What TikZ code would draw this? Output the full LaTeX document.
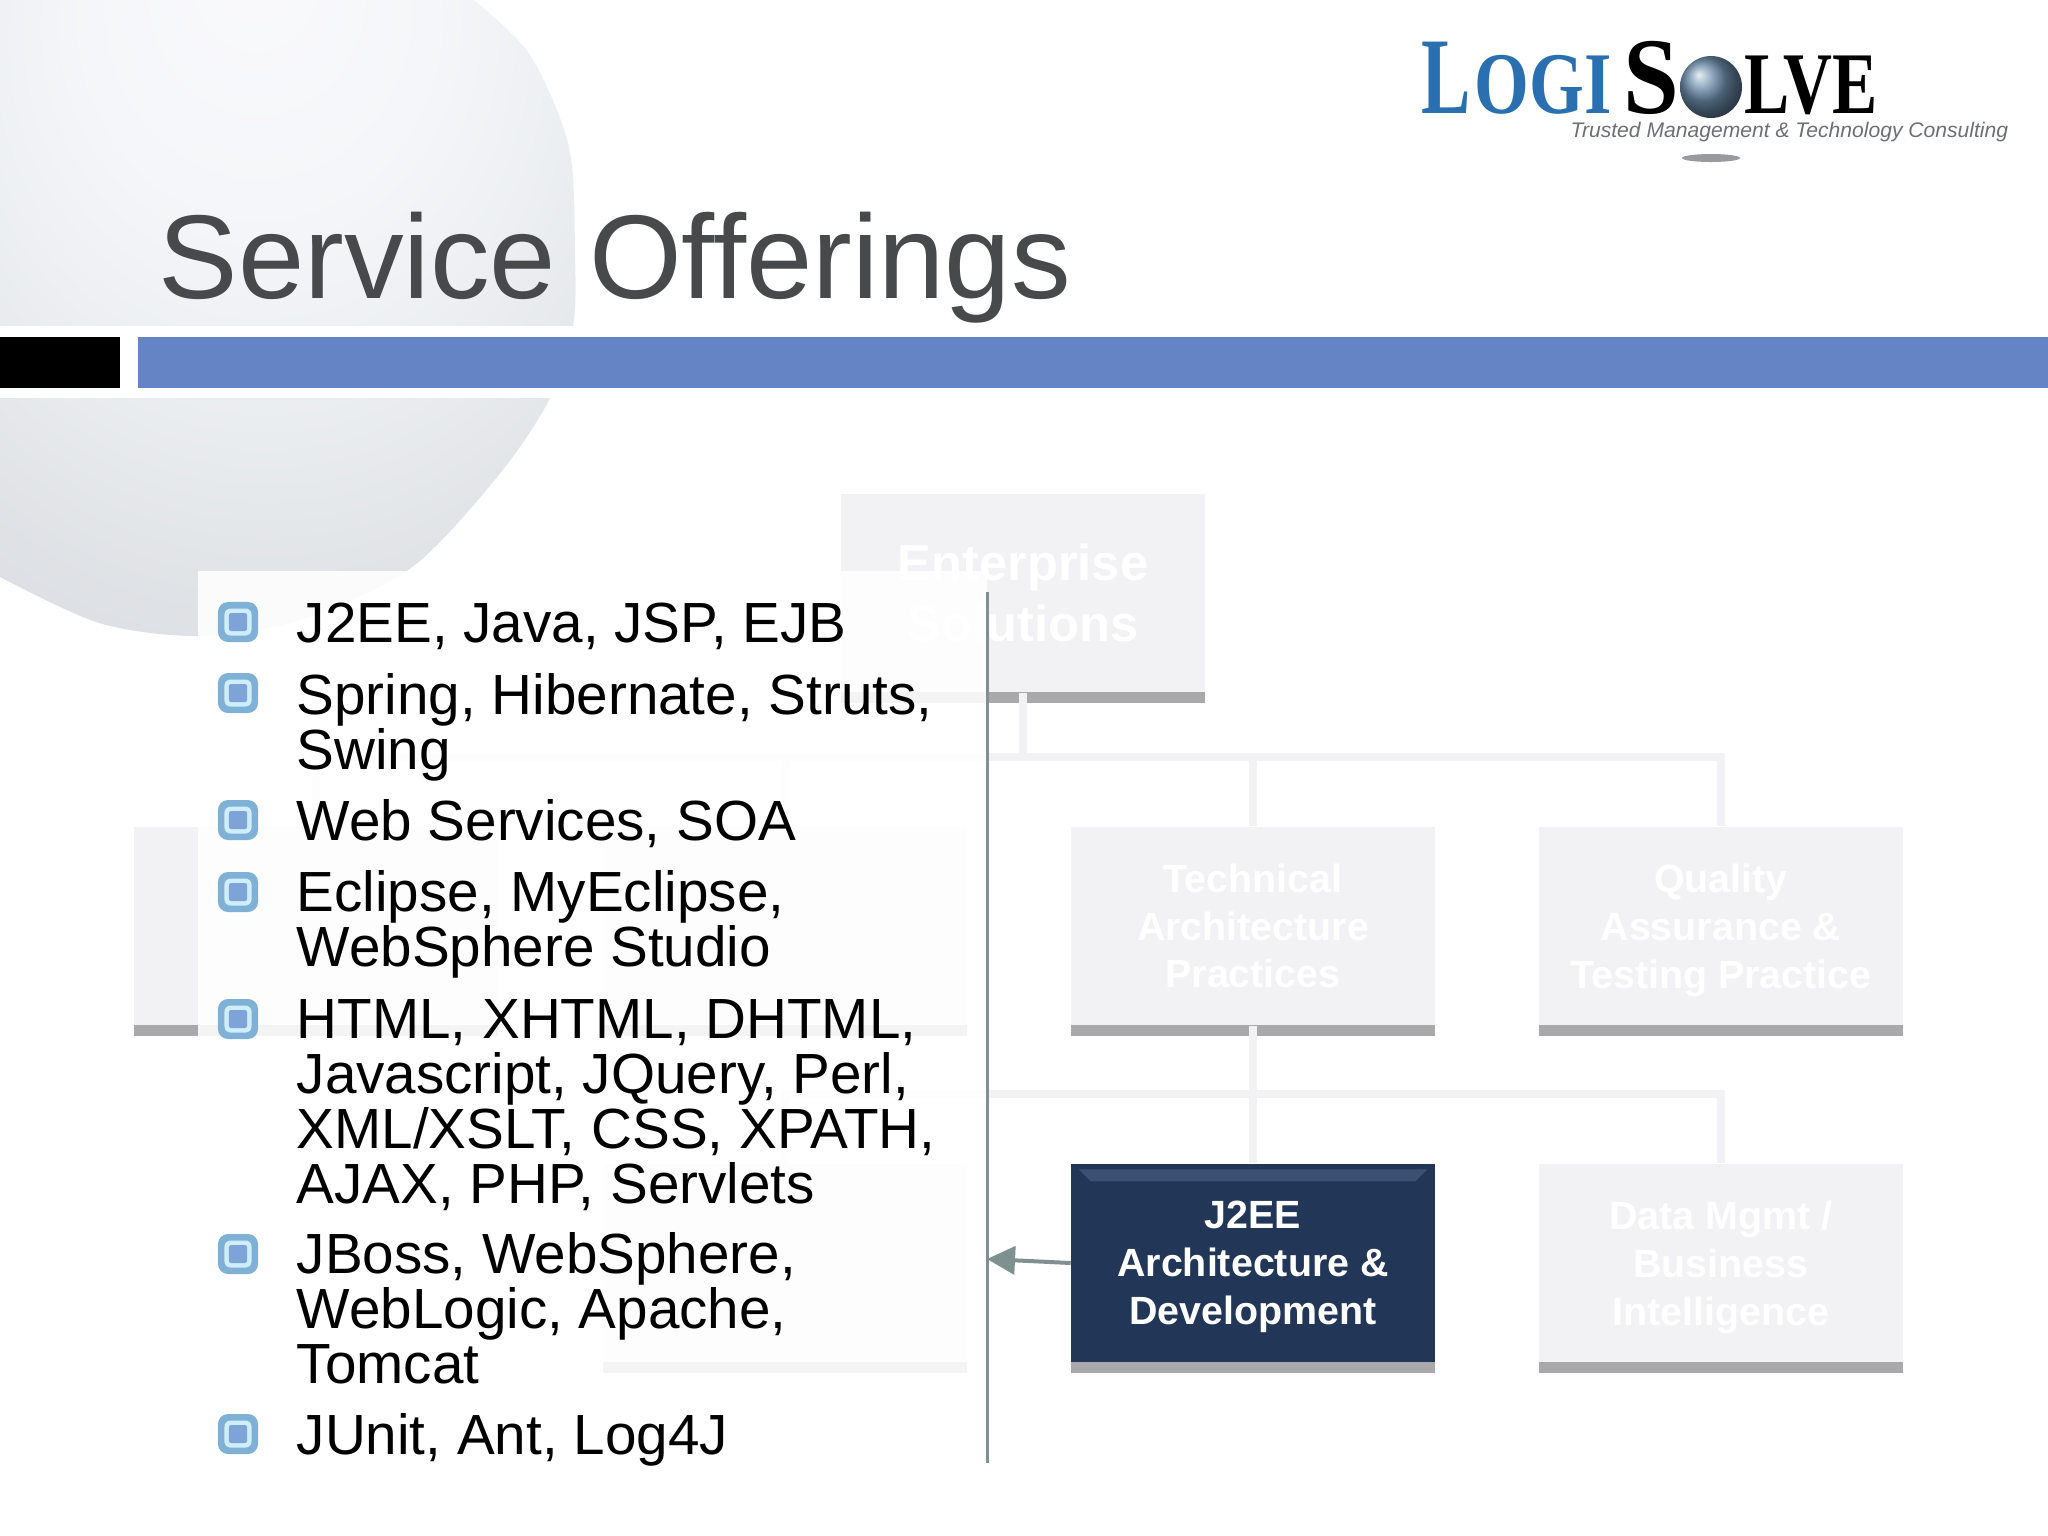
\documentclass[tikz,border=0pt]{standalone}
\usepackage{fontspec}
\setmainfont{Liberation Sans}
\newfontfamily\logofont{Liberation Serif}
\usetikzlibrary{arrows.meta,shadows}
\definecolor{titlegray}{HTML}{47494B}
\definecolor{barblue}{HTML}{6584C6}
\definecolor{boxpale}{HTML}{F2F2F4}
\definecolor{boxshade}{HTML}{A9A9AB}
\definecolor{boxnavy}{HTML}{223658}
\definecolor{navystrip}{HTML}{3B5174}
\definecolor{rulegray}{HTML}{7F9090}
\definecolor{logoblue}{HTML}{2A70B0}
\definecolor{taggray}{HTML}{6D6F75}
\definecolor{bulletedge}{HTML}{7FB1D6}
\definecolor{bulletring}{HTML}{CFEEFC}
\definecolor{bulletcore}{HTML}{7EA3D8}
\pgfdeclareradialshading{spheretone}{\pgfpoint{-3bp}{28bp}}{%
  rgb(0bp)=(.98,.98,.99); rgb(15bp)=(.96,.965,.975); rgb(25bp)=(.93,.94,.95);
  rgb(40bp)=(.875,.885,.90); rgb(50bp)=(.85,.86,.89); rgb(100bp)=(.85,.86,.89)}
\tikzset{
  orgbox/.style={rectangle, minimum width=3.63cm, minimum height=1.98cm, inner sep=0pt,
    fill=boxpale, text=white, align=center, font=\fontsize{11.2}{13.6}\selectfont\bfseries,
    drop shadow={shadow xshift=0cm, shadow yshift=-.11cm, fill=boxshade, opacity=1}},
  orgline/.style={draw=boxpale, line width=.08cm},
  logopart/.style={anchor=base west, inner sep=0pt}
}
\begin{document}
\begin{tikzpicture}[x=.01cm, y=-.01cm]
\useasboundingbox (0,0) rectangle (2048,1536);
% sphere and bars
\shade[shading=spheretone] (0,0) -- plot[smooth] coordinates {(474,0) (530,55) (569,147) (575,253) (573,326) (549,400) (498,476) (411,568) (300,620) (198,636) (99,623) (0,577)} -- cycle;
\fill[white] (0,326) rectangle (2048,398);
\fill[black] (0,337) rectangle (120,388);
\fill[barblue] (138,337) rectangle (2048,388);
\node[anchor=base west, inner sep=0pt, text=titlegray, font=\fontsize{33.9}{40}\selectfont] (title) at (158,298) {Service Offerings};
% logo
\node[logopart, xscale=.68, text=logoblue, font=\fontsize{31}{31}\logofont\bfseries] (logoL) at (1421,113) {L};
\node[logopart, xscale=.8, text=logoblue, font=\fontsize{25}{25}\logofont\bfseries] (logoOGI) at (1474,113) {OGI};
\node[logopart, xscale=.92, font=\fontsize{31}{31}\logofont\bfseries] (logoS) at (1623,113) {S};
\shade[ball color=logoblue!55!gray!85!white] (1711,87) circle[radius=31];
\node[logopart, xscale=.77, font=\fontsize{25}{25}\logofont\bfseries] (logoLVE) at (1744,113) {LVE};
\node[anchor=base west, inner sep=0pt, text=taggray, font=\fontsize{6}{7}\selectfont\itshape] (logotag) at (1570,137) {Trusted Management \& Technology Consulting};
\fill[taggray!70] (1711,158) ellipse[x radius=29, y radius=4];
% boxes
\node[orgbox, font=\fontsize{14.4}{17.4}\selectfont\bfseries] (enterprise) at (1023,593) {Enterprise\\Solutions};
\node[orgbox] (leftbox) at (316,926) {};
\node[orgbox] (midbox) at (785,926) {};
\node[orgbox] (technical) at (1253,926) {Technical\\Architecture\\Practices};
\node[orgbox] (quality) at (1721,926) {Quality\\Assurance \&\\\smash{Testing Practice}};
\node[orgbox] (lowerbox) at (785,1263) {};
\node[orgbox, fill=boxnavy] (j2ee) at (1253,1263) {J2EE\\Architecture \&\\\smash{Development}};
\node[orgbox] (datamgmt) at (1721,1263) {Data Mgmt /\\Business\\\smash{Intelligence}};
\fill[navystrip] ([shift={(8,6)}]j2ee.north west) -- ([shift={(-8,6)}]j2ee.north east) -- ([shift={(-20,18)}]j2ee.north east) -- ([shift={(20,18)}]j2ee.north west) -- cycle;
% tree lines
\coordinate (upperjoin) at (enterprise.south |- 0,757);
\coordinate (lowerjoin) at (technical.south |- 0,1094);
\draw[orgline] (enterprise.south) -- (upperjoin);
\draw[orgline] (upperjoin) -| (leftbox.north);
\draw[orgline] (upperjoin) -| (midbox.north);
\draw[orgline] (upperjoin) -| (technical.north);
\draw[orgline] (upperjoin) -| (quality.north);
\draw[orgline] (technical.south) -- (lowerjoin);
\draw[orgline] (lowerjoin) -| (lowerbox.north);
\draw[orgline] (lowerjoin) -- (j2ee.north);
\draw[orgline] (lowerjoin) -| (datamgmt.north);
% list panel
\fill[white, opacity=.88] (198,571) rectangle (987,1490);
\coordinate (ruletop) at (987,592);
\coordinate (rulebottom) at (987,1463);
\coordinate (rulepoint) at (987,1259);
\draw[rulegray, line width=.03cm] (ruletop) -- (rulebottom);
\draw[-{Triangle[length=.28cm,width=.28cm]}, rulegray, line width=.04cm] (j2ee.west) -- (rulepoint);
\foreach \by/\ty/\itemtext [count=\i] in {
  622/642/{J2EE, Java, JSP, EJB},
  693/769/{Spring, Hibernate, Struts,\\Swing},
  820/840/{Web Services, SOA},
  892/966/{Eclipse, MyEclipse,\\WebSphere Studio},
  1019/1203/{HTML, XHTML, DHTML,\\Javascript, JQuery, Perl,\\XML/XSLT, CSS, XPATH,\\AJAX, PHP, Servlets},
  1254/1383/{JBoss, WebSphere,\\WebLogic, Apache,\\Tomcat},
  1434/1454/{JUnit, Ant, Log4J}}
{
  \node[rectangle, rounded corners=.1cm, fill=bulletedge, minimum size=.4cm, inner sep=0pt] (bullet\i) at (238,\by) {};
  \node[rectangle, rounded corners=.06cm, fill=bulletring, minimum size=.27cm, inner sep=0pt] (ring\i) at (bullet\i) {};
  \node[rectangle, rounded corners=.02cm, fill=bulletcore, minimum size=.18cm, inner sep=0pt] (core\i) at (bullet\i) {};
  \node[anchor=base west, inner sep=0pt, align=left, font=\fontsize{16.1}{15.6}\selectfont] (item\i) at (296,\ty) {\itemtext};
}
\end{tikzpicture}
\end{document}
